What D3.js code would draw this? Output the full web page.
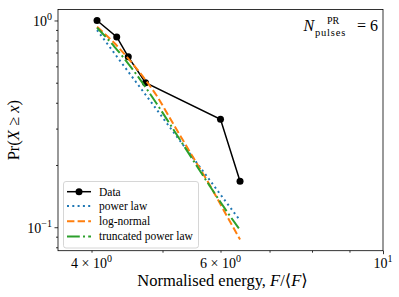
<!DOCTYPE html>
<html>
<head>
<meta charset="utf-8">
<script src="https://cdn.jsdelivr.net/npm/d3@7"></script>
<style>
  html, body { margin: 0; padding: 0; background: #fff; }
  svg { display: block; }
  text { font-family: "Liberation Serif", "DejaVu Serif", serif; fill: #000; }
</style>
</head>
<body>
<svg id="chart" width="399" height="297"></svg>
<script>
// ---- data ----
const energies = [4.07, 4.33, 4.49, 4.74, 6.00, 6.38];
const ccdf = [1.0, 0.833, 0.667, 0.5, 0.333, 0.167];

const fitX = [4.07, 4.3, 4.6, 4.9, 5.2, 5.5, 5.8, 6.1, 6.38];
const powerLaw = [0.899, 0.693, 0.504, 0.374, 0.282, 0.217, 0.169, 0.133, 0.108];
const logNormal = [0.932, 0.776, 0.590, 0.437, 0.306, 0.219, 0.160, 0.116, 0.0873];
const truncatedPowerLaw = [0.922, 0.746, 0.552, 0.400, 0.289, 0.212, 0.1585, 0.1213, 0.0970];

const seriesNames = ["Data", "power law", "log-normal", "truncated power law"];

const xMajorTicks = [10];
const xMinorTicks = [4, 5, 6, 7, 8, 9];
const xTickLabels = [{v: 4, m: "4 × 10", e: "0"}, {v: 6, m: "6 × 10", e: "0"}, {v: 10, m: "10", e: "1"}];
const yMajorTicks = [0.1, 1];
const yMinorTicks = [0.08, 0.09, 0.2, 0.3, 0.4, 0.5, 0.6, 0.7, 0.8, 0.9];
const yTickLabels = [{v: 1, m: "10", e: "0"}, {v: 0.1, m: "10", e: "−1"}];

// ---- layout ----
const L = 58, R = 383, T = 9.5, B = 250.7;
const svg = d3.select("#chart");

const x = d3.scaleLog().domain([3.6, 10]).range([L, R]);
const y = d3.scaleLog().domain([0.077, 1.13]).range([B, T]);

svg.append("rect").attr("x", L).attr("y", T).attr("width", R - L).attr("height", B - T).attr("fill", "#fff");

svg.append("defs").append("clipPath").attr("id", "clip")
  .append("rect").attr("x", L).attr("y", T).attr("width", R - L).attr("height", B - T);

const plot = svg.append("g").attr("clip-path", "url(#clip)");

// data line
const lineData = d3.line().x((d, i) => x(energies[i])).y((d, i) => y(ccdf[i]));
plot.append("path").datum(ccdf).attr("d", lineData)
  .attr("fill", "none").attr("stroke", "#000").attr("stroke-width", 1.5);
plot.selectAll("circle.pt").data(ccdf).enter().append("circle")
  .attr("class", "pt")
  .attr("cx", (d, i) => x(energies[i])).attr("cy", d => y(d)).attr("r", 3.5).attr("fill", "#000");

// fits
const fits = [
  {vals: powerLaw, color: "#1f77b4", dash: "2,3.3"},
  {vals: logNormal, color: "#ff7f0e", dash: "7.4,3.2"},
  {vals: truncatedPowerLaw, color: "#2ca02c", dash: "12.8,3.2,2,3.2"}
];
const fitLine = d3.line().x((d, i) => x(fitX[i])).y(d => y(d)).curve(d3.curveMonotoneX);
fits.forEach(f => {
  plot.append("path").datum(f.vals).attr("d", fitLine)
    .attr("fill", "none").attr("stroke", f.color).attr("stroke-width", 2)
    .attr("stroke-dasharray", f.dash);
});

// axes ticks
function styleAxis(g) {
  g.select(".domain").remove();
  g.selectAll(".tick line").attr("stroke", "#000").attr("stroke-width", 0.8);
  g.selectAll(".tick text").remove();
}
svg.append("g").attr("transform", `translate(0,${B})`)
  .call(d3.axisBottom(x).tickValues(xMajorTicks).tickSize(3.5).tickFormat("")).call(styleAxis);
svg.append("g").attr("transform", `translate(0,${B})`)
  .call(d3.axisBottom(x).tickValues(xMinorTicks).tickSize(2).tickFormat("")).call(styleAxis);
svg.append("g").attr("transform", `translate(${L},0)`)
  .call(d3.axisLeft(y).tickValues(yMajorTicks).tickSize(3.5).tickFormat("")).call(styleAxis);
svg.append("g").attr("transform", `translate(${L},0)`)
  .call(d3.axisLeft(y).tickValues(yMinorTicks).tickSize(2).tickFormat("")).call(styleAxis);

// frame
svg.append("rect").attr("x", L).attr("y", T).attr("width", R - L).attr("height", B - T)
  .attr("fill", "none").attr("stroke", "#000").attr("stroke-width", 0.8);

// tick labels
xTickLabels.forEach(t => {
  const tx = svg.append("text").attr("x", x(t.v)).attr("y", 267.5)
    .attr("text-anchor", "middle").style("font-size", "14px");
  tx.append("tspan").text(t.m);
  tx.append("tspan").attr("dy", -6).style("font-size", "10px").text(t.e);
});
yTickLabels.forEach(t => {
  const tx = svg.append("text").attr("x", 52).attr("y", y(t.v) + 5.5)
    .attr("text-anchor", "end").style("font-size", "14px");
  tx.append("tspan").text(t.m);
  tx.append("tspan").attr("dy", -6).style("font-size", "10px").text(t.e);
});

// axis labels
const xl = svg.append("text").attr("x", (L + R) / 2 + 2).attr("y", 286)
  .attr("text-anchor", "middle").style("font-size", "16.5px");
xl.append("tspan").text("Normalised energy, ");
xl.append("tspan").style("font-style", "italic").text("F");
xl.append("tspan").text("/⟨");
xl.append("tspan").style("font-style", "italic").text("F");
xl.append("tspan").text("⟩");

const yl = svg.append("text").attr("transform", `translate(18.5,${(T + B) / 2}) rotate(-90)`)
  .attr("text-anchor", "middle").style("font-size", "16.5px");
yl.append("tspan").text("Pr(");
yl.append("tspan").style("font-style", "italic").text("X");
yl.append("tspan").text(" ≥ ");
yl.append("tspan").style("font-style", "italic").text("x");
yl.append("tspan").text(")");

// annotation
svg.append("text").attr("x", 303.5).attr("y", 30.5).style("font-size", "16px")
  .style("font-style", "italic").text("N");
svg.append("text").attr("x", 327).attr("y", 23.8).style("font-size", "10px").text("PR");
svg.append("text").attr("x", 315).attr("y", 35.8).style("font-size", "10.5px")
  .style("letter-spacing", "0.8px").text("pulses");
svg.append("text").attr("x", 378).attr("y", 30.5).attr("text-anchor", "end").style("font-size", "16px").text("= 6");

// legend
const lg = svg.append("g");
lg.append("rect").attr("x", 63.5).attr("y", 181.5).attr("width", 135).attr("height", 66.5)
  .attr("rx", 2.5).attr("fill", "#fff").attr("fill-opacity", 0.8)
  .attr("stroke", "#ccc").attr("stroke-width", 0.8);
const rowsY = [191.7, 206, 221.2, 236.5];
const styles = [
  {color: "#000", dash: null, marker: true},
  {color: "#1f77b4", dash: "2,3.3"},
  {color: "#ff7f0e", dash: "7.4,3.2"},
  {color: "#2ca02c", dash: "12.8,3.2,2,3.2"}
];
seriesNames.forEach((name, i) => {
  const s = styles[i];
  lg.append("line").attr("x1", 67).attr("x2", 91).attr("y1", rowsY[i]).attr("y2", rowsY[i])
    .attr("stroke", s.color).attr("stroke-width", i === 0 ? 1.5 : 2)
    .attr("stroke-dasharray", s.dash);
  if (s.marker) lg.append("circle").attr("cx", 79).attr("cy", rowsY[i]).attr("r", 3.5).attr("fill", "#000");
  lg.append("text").attr("x", 99).attr("y", rowsY[i] + 3.8).style("font-size", "11.5px").text(name);
});
</script>
</body>
</html>
